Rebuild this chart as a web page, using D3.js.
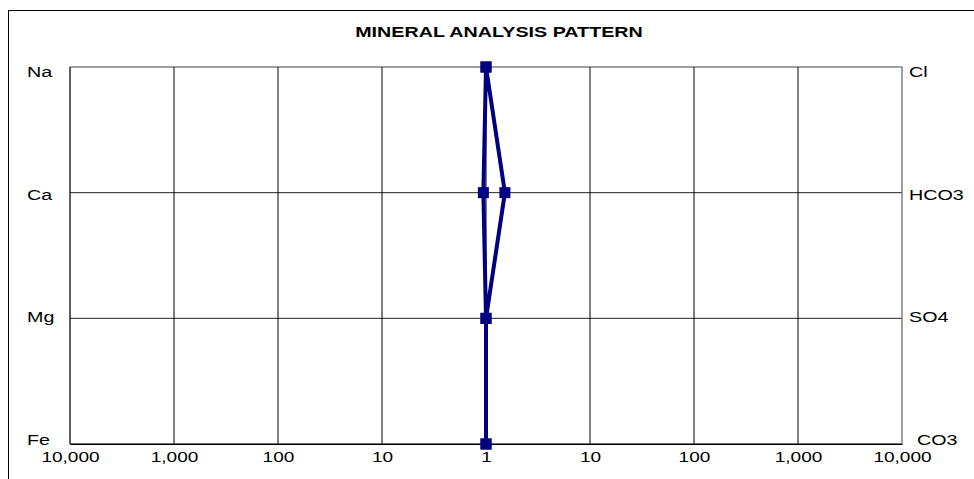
<!DOCTYPE html>
<html>
<head>
<meta charset="utf-8">
<script src="https://cdn.jsdelivr.net/npm/d3@7"></script>
<style>
	body { margin: 0; background: #fff; }
	svg { display: block; font-family: "Liberation Sans", Arial, sans-serif; }
</style>
</head>
<body>
<div id="chart"></div>
<script>
(function () {'use strict';

// data
var title = 'MINERAL ANALYSIS PATTERN';
var cations = ['Na', 'Ca', 'Mg', 'Fe'];
var anions = ['Cl', 'HCO3', 'SO4', 'CO3'];
var cationValues = [1, 1.06, 1, 1];
var anionValues = [1, 1.52, 1, 1];
var leftTicks = [10000, 1000, 100, 10, 1];
var rightTicks = [1, 10, 100, 1000, 10000];

var W = 974, H = 479,
	plot = { left: 70, right: 902, top: 67, bottom: 444 },
	mid = (plot.left + plot.right) / 2,
	stretch = 1.36,
	navy = '#000080';

var svg = d3.select('#chart')
	.append('svg')
		.attr('width', W)
		.attr('height', H);

// outer frame (runs off the window at right and bottom)
svg.append('rect')
	.attr('x', 8.5)
	.attr('y', 10.5)
	.attr('width', W)
	.attr('height', H)
	.attr('fill', '#fff')
	.attr('stroke', '#000');

var xLeft = d3.scaleLog().domain([10000, 1]).range([plot.left, mid]),
	xRight = d3.scaleLog().domain([1, 10000]).range([mid, plot.right]),
	y = d3.scalePoint().domain(d3.range(cations.length)).range([plot.top, plot.bottom]),
	yLabel = d3.scalePoint().domain(d3.range(cations.length)).range([plot.top + 5, plot.bottom - 4]);

function stretchedText(g, x, yy, str, anchor, size, weight) {
	return g.append('text')
		.attr('transform', 'translate(' + x + ',' + yy + ') scale(' + stretch + ',1)')
		.attr('text-anchor', anchor)
		.attr('dominant-baseline', 'central')
		.attr('font-size', size)
		.attr('font-weight', weight || 'normal')
		.attr('fill', '#000')
		.text(str);
}

// title
stretchedText(svg, 499, 32, title, 'middle', 14.5, 'bold');

// plot background + border (top/right grey)
svg.append('rect')
	.attr('x', plot.left)
	.attr('y', plot.top)
	.attr('width', plot.right - plot.left)
	.attr('height', plot.bottom - plot.top)
	.attr('fill', '#fff')
	.attr('stroke', '#808080');

// horizontal grid
svg.append('g')
	.selectAll('line')
	.data(d3.range(cations.length))
	.join('line')
		.attr('x1', plot.left)
		.attr('x2', plot.right)
		.attr('y1', function (d) { return y(d); })
		.attr('y2', function (d) { return y(d); })
		.attr('stroke', function (d) { return d === 0 ? '#808080' : '#222'; });

// vertical grid
var gridX = leftTicks.map(xLeft).concat(rightTicks.slice(1).map(xRight));
svg.append('g')
	.selectAll('line')
	.data(gridX)
	.join('line')
		.attr('x1', function (d) { return d; })
		.attr('x2', function (d) { return d; })
		.attr('y1', plot.top)
		.attr('y2', plot.bottom)
		.attr('stroke', function (d, i) { return i === gridX.length - 1 ? '#808080' : '#000'; });

// x axes (labels only, ticks are the grid)
var fmt = d3.format(',');
[[xLeft, leftTicks], [xRight, rightTicks.slice(1)]].forEach(function (p) {
	var g = svg.append('g')
		.attr('transform', 'translate(0,' + plot.bottom + ')')
		.call(d3.axisBottom(p[0]).tickValues(p[1]).tickFormat(fmt).tickSize(0).tickPadding(0));
	g.select('.domain').attr('stroke', '#000');
	g.selectAll('.tick text').remove();
	g.selectAll('.tick').each(function (d) {
		stretchedText(d3.select(this), 0, 13, fmt(d), 'middle', 14);
	});
});

// ion labels
cations.forEach(function (c, i) {
	stretchedText(svg, 27, yLabel(i), c, 'start', 14.5);
});
anions.forEach(function (a, i) {
	var x = i === anions.length - 1 ? 917 : 909;
	stretchedText(svg, x, yLabel(i), a, 'start', 14.5);
});

// stiff polygon
var pts = cationValues.map(function (v, i) { return [xLeft(v), y(i)]; })
	.concat(anionValues.map(function (v, i) { return [xRight(v), y(i)]; }).reverse());

svg.append('path')
	.attr('d', d3.line()(pts) + 'Z')
	.attr('fill', 'none')
	.attr('stroke', navy)
	.attr('stroke-width', 4)
	.attr('stroke-linejoin', 'miter');

svg.append('g')
	.selectAll('rect')
	.data(pts)
	.join('rect')
		.attr('x', function (d) { return d[0] - 5.5; })
		.attr('y', function (d) { return d[1] - 5.5; })
		.attr('width', 11)
		.attr('height', 11)
		.attr('fill', navy);

})();
</script>
</body>
</html>
